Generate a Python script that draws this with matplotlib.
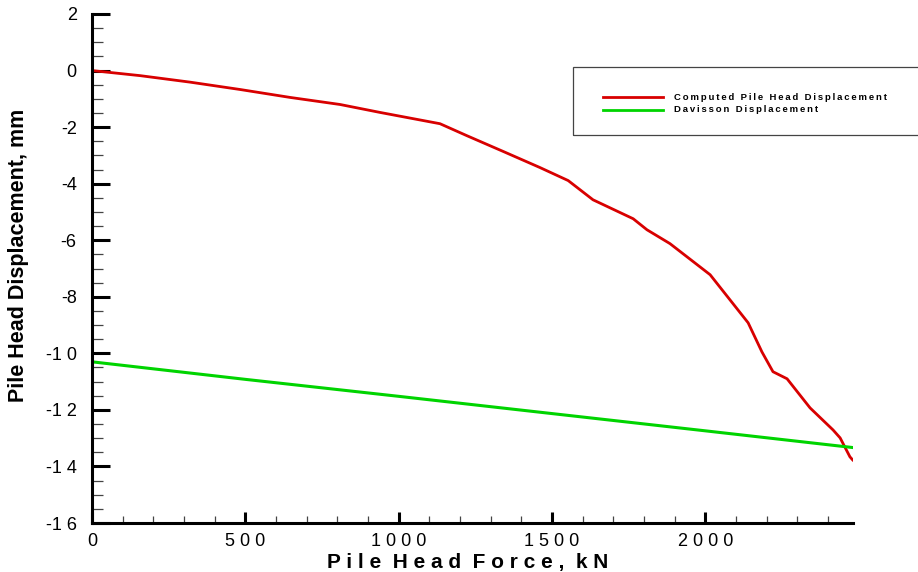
import matplotlib
matplotlib.use('Agg')
import matplotlib.pyplot as plt
from matplotlib.ticker import MultipleLocator, FuncFormatter
from matplotlib.patches import Rectangle
from matplotlib.lines import Line2D

plt.rcParams['font.family'] = ['Liberation Sans', 'DejaVu Sans']

# Data
force = [0, 157, 320, 483, 646, 809, 939, 1135, 1222, 1341, 1461, 1553, 1634,
         1765, 1810, 1885, 2016, 2140, 2185, 2221, 2267, 2342, 2417, 2440,
         2472, 2481]
computed = [0.0, -0.18, -0.41, -0.67, -0.95, -1.20, -1.48, -1.88, -2.30, -2.86,
            -3.43, -3.89, -4.57, -5.24, -5.63, -6.12, -7.22, -8.92, -9.95,
            -10.65, -10.90, -11.93, -12.71, -12.99, -13.66, -13.77]

davisson_force = [0, 500, 1000, 1500, 2000, 2480]
davisson = [-10.30, -10.92, -11.52, -12.13, -12.74, -13.33]

labels = ['Computed Pile Head Displacement', 'Davisson Displacement']
colors = ['#d80000', '#00d400']


def spaced(s, gap=' ', wgap='  '):
    # spread letters out, like the Tecplot lettering
    return wgap.join(gap.join(w) for w in s.split(' '))


def tick_fmt(v, pos):
    s = f"{v:g}"
    sign = '-' if s.startswith('-') else ''
    return sign + ' '.join(s.lstrip('-'))


fig = plt.figure(figsize=(9.18, 5.72), dpi=100)
ax = fig.add_axes([92 / 918, 49 / 572, 761 / 918, 509 / 572])

ax.plot(force, computed, color=colors[0], lw=2.0)
ax.plot(davisson_force, davisson, color=colors[1], lw=2.2)

ax.set_xlim(0, 2482)
ax.set_ylim(-16, 2)

for side in ['top', 'right']:
    ax.spines[side].set_visible(False)
for side in ['left', 'bottom']:
    ax.spines[side].set_linewidth(2.2)

ax.xaxis.set_major_locator(MultipleLocator(500))
ax.xaxis.set_minor_locator(MultipleLocator(100))
ax.yaxis.set_major_locator(MultipleLocator(2))
ax.yaxis.set_minor_locator(MultipleLocator(0.5))
ax.xaxis.set_major_formatter(FuncFormatter(tick_fmt))
ax.yaxis.set_major_formatter(FuncFormatter(tick_fmt))

ax.tick_params(axis='x', which='major', direction='in', length=8, width=2.2,
               pad=7, labelsize=13)
ax.tick_params(axis='x', which='minor', direction='in', length=5, width=0.9,
               color='#444444')
ax.tick_params(axis='y', which='major', direction='in', length=13, width=2.2,
               pad=11, labelsize=13)
ax.tick_params(axis='y', which='minor', direction='in', length=8, width=0.9,
               color='#444444')

fig.text(468 / 918, 4 / 572, spaced('Pile Head Force, kN'), ha='center',
         va='baseline', fontsize=15, fontweight='bold')
fig.text(19 / 918, 317 / 572, 'Pile Head Displacement, mm', rotation=90,
         ha='center', va='center', fontsize=15.5, fontweight='bold')

# legend box, running off the right edge like the original
fig.patches.append(Rectangle((573 / 918, 437 / 572), 0.5, 68 / 572,
                             transform=fig.transFigure, fill=False,
                             edgecolor='#444444', lw=0.9))
for i, (lab, c) in enumerate(zip(labels, colors)):
    yy = (572 - 97.3 - i * 12.7) / 572
    fig.lines.append(Line2D([603 / 918, 663 / 918], [yy, yy],
                            transform=fig.transFigure, color=c, lw=2.0))
    fig.text(674 / 918, yy, spaced(lab, '\u2009', ' \u2009\u2009'),
             ha='left', va='center', fontsize=6.8, fontweight='bold')

fig.savefig('out.png', dpi=100)
